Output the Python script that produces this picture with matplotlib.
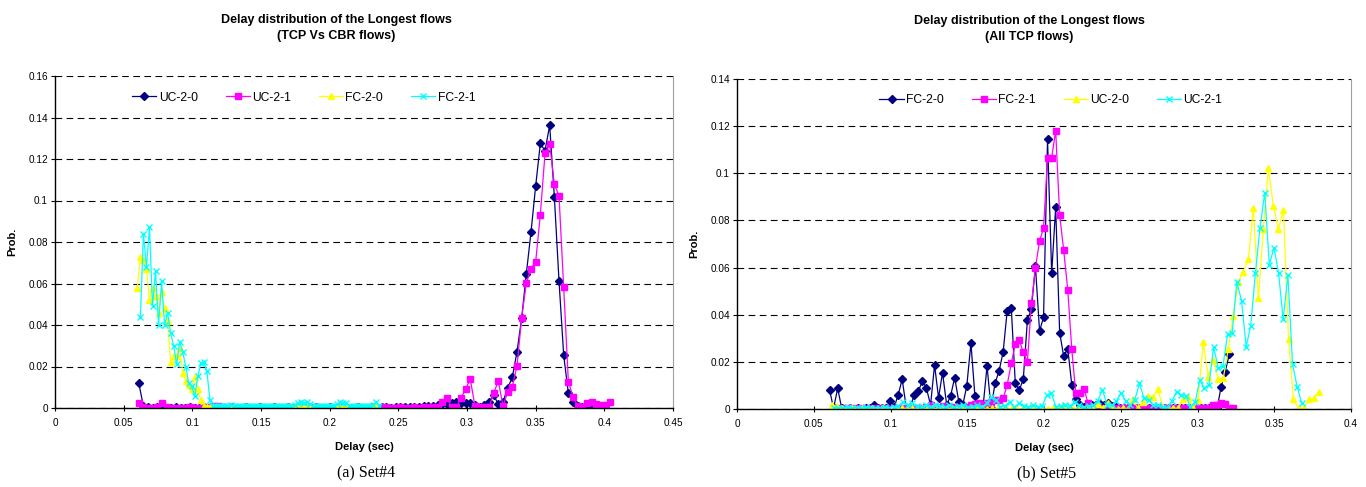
import matplotlib
matplotlib.use("Agg")
import matplotlib.pyplot as plt
from matplotlib.ticker import FuncFormatter

plt.rcParams['font.family'] = ['Liberation Sans', 'DejaVu Sans']

# ---- Set#4 (TCP Vs CBR flows) ----
set4_uc_delay = [
    0.0610, 0.0644, 0.0678, 0.0712, 0.0746, 0.0780, 0.0814, 0.0848, 0.0882, 0.0916,
    0.0950, 0.0984, 0.1018, 0.1052, 0.1086, 0.1120, 0.1154, 0.1188, 0.1222, 0.1256,
    0.1290, 0.1324, 0.1358, 0.1392, 0.1426, 0.1460, 0.1494, 0.1528, 0.1562, 0.1596,
    0.1630, 0.1664, 0.1698, 0.1732, 0.1766, 0.1800, 0.1834, 0.1868, 0.1902, 0.1936,
    0.1970, 0.2004, 0.2038, 0.2072, 0.2106, 0.2140, 0.2174, 0.2208, 0.2242, 0.2276,
    0.2310, 0.2344, 0.2378, 0.2412, 0.2446, 0.2480, 0.2514, 0.2548, 0.2582, 0.2616,
    0.2650, 0.2684, 0.2718, 0.2752, 0.2786, 0.2820, 0.2854, 0.2888, 0.2922, 0.2956,
    0.2990, 0.3024, 0.3058, 0.3092, 0.3126, 0.3160, 0.3194, 0.3228, 0.3262, 0.3296,
    0.3330, 0.3364, 0.3398, 0.3432, 0.3466, 0.3500, 0.3534, 0.3568, 0.3602, 0.3636,
    0.3670, 0.3704, 0.3738, 0.3772, 0.3806, 0.3840, 0.3874, 0.3908, 0.3942, 0.3976,
    0.4010, 0.4044]
set4_uc20 = [
    0.012, 0.0008, 0.0003, 0.0002, 0.0006, 0.0003, 0.0002, 0.0002, 0.0003, 0.0002,
    0.0002, 0.0003, 0.0002, 0.0002, 0.0003, 0.0002, 0.0002, 0.0004, 0.0002, 0.0002,
    0.0003, 0.0002, 0.0002, 0.0003, 0.0002, 0.0002, 0.0003, 0.0002, 0.0002, 0.0003,
    0.0002, 0.0002, 0.0003, 0.0002, 0.0002, 0.0003, 0.0002, 0.0002, 0.0003, 0.0002,
    0.0002, 0.0003, 0.0002, 0.0002, 0.0003, 0.0002, 0.0002, 0.0003, 0.0002, 0.0002,
    0.0003, 0.0002, 0.0004, 0.0003, 0.0002, 0.0004, 0.0003, 0.0005, 0.0004, 0.0006,
    0.0005, 0.0008, 0.001, 0.001, 0.0015, 0.002, 0.002, 0.0025, 0.003, 0.0026,
    0.0026, 0.0023, 0.0015, 0.0006, 0.0015, 0.0029, 0.0061, 0.0019, 0.003, 0.0096,
    0.0148, 0.0271, 0.0432, 0.0647, 0.0847, 0.107, 0.1275, 0.124, 0.1362, 0.1018,
    0.0612, 0.0255, 0.0071, 0.003, 0.001, 0.0006, 0.001, 0.0005, 0.0003, 0.0003]
set4_uc21 = [
    0.0025, 0.0003, 0.0002, 0.0002, 0.0003, 0.0024, 0.0003, 0.0002, 0.0002, 0.0002,
    0.0002, 0.0003, 0.0002, 0.0002, 0.0002, 0.0003, 0.0008, 0.0012, 0.0006, 0.0004,
    0.0003, 0.0002, 0.0002, 0.0003, 0.0002, 0.0002, 0.0003, 0.0002, 0.0002, 0.0003,
    0.0002, 0.0002, 0.0003, 0.0002, 0.0002, 0.0003, 0.0002, 0.0002, 0.0003, 0.0002,
    0.0002, 0.0003, 0.0002, 0.0002, 0.0003, 0.0002, 0.0002, 0.0003, 0.0002, 0.0002,
    0.0003, 0.0002, 0.0002, 0.0003, 0.0002, 0.0002, 0.0003, 0.0002, 0.0002, 0.0003,
    0.0002, 0.0003, 0.0003, 0.0003, 0.0003, 0.003, 0.005, 0.0005, 0.0005, 0.0047,
    0.0092, 0.0138, 0.001, 0.0003, 0.0003, 0.0003, 0.0071, 0.013, 0.001, 0.0075,
    0.0103, 0.0202, 0.0434, 0.0602, 0.0672, 0.0704, 0.0932, 0.1227, 0.1272, 0.1078,
    0.1022, 0.0582, 0.0127, 0.0055, 0.001, 0.0007, 0.0022, 0.003, 0.0019, 0.0015,
    0.0014, 0.003]

set4_fc_delay = [
    0.0600, 0.0622, 0.0644, 0.0666, 0.0688, 0.0710, 0.0732, 0.0754, 0.0776, 0.0798,
    0.0820, 0.0842, 0.0864, 0.0886, 0.0908, 0.0930, 0.0952, 0.0974, 0.0996, 0.1018,
    0.1040, 0.1062, 0.1084, 0.1106, 0.1128, 0.1150, 0.1172, 0.1194, 0.1216, 0.1238,
    0.1260, 0.1282, 0.1304, 0.1326, 0.1348, 0.1370, 0.1392, 0.1414, 0.1436, 0.1458,
    0.1480, 0.1502, 0.1524, 0.1546, 0.1568, 0.1590, 0.1612, 0.1634, 0.1656, 0.1678,
    0.1700, 0.1722, 0.1744, 0.1766, 0.1788, 0.1810, 0.1832, 0.1854, 0.1876, 0.1898,
    0.1920, 0.1942, 0.1964, 0.1986, 0.2008, 0.2030, 0.2052, 0.2074, 0.2096, 0.2118,
    0.2140, 0.2162, 0.2184, 0.2206, 0.2228, 0.2250, 0.2272, 0.2294, 0.2316, 0.2338,
    0.2360]
set4_fc20 = [
    0.058, 0.073, 0.0715, 0.067, 0.052, 0.058, 0.054, 0.046, 0.056, 0.048,
    0.042, 0.022, 0.025, 0.025, 0.029, 0.017, 0.013, 0.011, 0.009, 0.015,
    0.009, 0.004, 0.001, 0.0005, 0.0004, 0.0005, 0.0004, 0.0006, 0.0005, 0.0004,
    0.0005, 0.0006, 0.0004, 0.0005, 0.0004, 0.0005, 0.0006, 0.0004, 0.0005, 0.0004,
    0.0005, 0.0004, 0.0006, 0.0005, 0.0004, 0.0005, 0.0004, 0.0005, 0.0006, 0.0004,
    0.0005, 0.0007, 0.0005, 0.0004, 0.0006, 0.0008, 0.0006, 0.0005, 0.0004, 0.0005,
    0.0004, 0.0005, 0.0006, 0.0004, 0.0005, 0.0004, 0.0005, 0.0007, 0.0005, 0.0006,
    0.0004, 0.0005, 0.0004, 0.0005, 0.0006, 0.0004, 0.0005, 0.0006, 0.0008, 0.0010]
set4_fc21 = [
    0.044, 0.084, 0.068, 0.087, 0.049, 0.066, 0.040, 0.061, 0.040, 0.046,
    0.036, 0.030, 0.021, 0.032, 0.027, 0.020, 0.012, 0.0104, 0.0056, 0.0152,
    0.0216, 0.0224, 0.0176, 0.004, 0.0008, 0.0012, 0.001, 0.0009, 0.0012, 0.001,
    0.0015, 0.0012, 0.0009, 0.0011, 0.001, 0.0012, 0.0009, 0.001, 0.0012, 0.0011,
    0.0009, 0.001, 0.0012, 0.0011, 0.001, 0.0012, 0.0009, 0.0011, 0.001, 0.0012,
    0.0011, 0.0015, 0.0025, 0.003, 0.0022, 0.0028, 0.0018, 0.0012, 0.001, 0.0011,
    0.0012, 0.0009, 0.0011, 0.001, 0.0012, 0.0018, 0.0028, 0.0022, 0.0025, 0.0012,
    0.001, 0.0011, 0.0012, 0.0009, 0.001, 0.0011, 0.0012, 0.0015, 0.003, 0.0012]

# ---- Set#5 (All TCP flows) ----
set5_fc_delay = [
    0.0603, 0.0629, 0.0656, 0.0682, 0.0708, 0.0735, 0.0761, 0.0787, 0.0813, 0.0840,
    0.0866, 0.0892, 0.0919, 0.0945, 0.0971, 0.0998, 0.1024, 0.1050, 0.1076, 0.1103,
    0.1129, 0.1155, 0.1182, 0.1208, 0.1234, 0.1261, 0.1287, 0.1313, 0.1339, 0.1366,
    0.1392, 0.1418, 0.1445, 0.1471, 0.1497, 0.1524, 0.1550, 0.1576, 0.1602, 0.1629,
    0.1655, 0.1681, 0.1708, 0.1734, 0.1760, 0.1787, 0.1813, 0.1839, 0.1865, 0.1892,
    0.1918, 0.1944, 0.1971, 0.1997, 0.2023, 0.2050, 0.2076, 0.2102, 0.2128, 0.2155,
    0.2181, 0.2207, 0.2234, 0.2260, 0.2286, 0.2313, 0.2339, 0.2365, 0.2391, 0.2418,
    0.2444, 0.2470, 0.2497, 0.2523, 0.2549, 0.2576, 0.2602, 0.2628, 0.2654, 0.2681,
    0.2707, 0.2733, 0.2760, 0.2786, 0.2812, 0.2839, 0.2865, 0.2891, 0.2917, 0.2944,
    0.2970, 0.2996, 0.3023, 0.3049, 0.3075, 0.3102, 0.3128, 0.3154, 0.3180, 0.3207,
    0.3233]
set5_fc20 = [
    0.0081, 0.0003, 0.0088, 0.0003, 0.0002, 0.0003, 0.0002, 0.0003, 0.0002, 0.0003,
    0.0004, 0.0017, 0.0003, 0.0003, 0.0006, 0.0034, 0.0008, 0.006, 0.0126, 0.0005,
    0.001, 0.006, 0.0076, 0.012, 0.0088, 0.0017, 0.0187, 0.0048, 0.0154, 0.0017,
    0.0057, 0.0133, 0.0031, 0.0017, 0.0098, 0.0279, 0.0055, 0.0003, 0.0003, 0.0182,
    0.0003, 0.0109, 0.0163, 0.0243, 0.0416, 0.0427, 0.0109, 0.0081, 0.0126, 0.0378,
    0.0424, 0.0607, 0.0331, 0.0389, 0.1144, 0.0576, 0.0856, 0.0324, 0.0225, 0.0256,
    0.0102, 0.0042, 0.0017, 0.001, 0.0013, 0.0017, 0.0015, 0.0022, 0.0017, 0.0027,
    0.0013, 0.0008, 0.0005, 0.0003, 0.0003, 0.0004, 0.0003, 0.0003, 0.0004, 0.0003,
    0.0003, 0.0003, 0.0004, 0.0003, 0.0003, 0.0003, 0.0004, 0.0003, 0.0003, 0.0003,
    0.0003, 0.0004, 0.0003, 0.0003, 0.0003, 0.0003, 0.0004, 0.0095, 0.0157, 0.0232]
set5_fc21 = [
    0.0005, 0.0003, 0.0002, 0.0003, 0.0002, 0.0003, 0.0002, 0.0003, 0.0002, 0.0003,
    0.0002, 0.0003, 0.0002, 0.0003, 0.0002, 0.0003, 0.0002, 0.0003, 0.0002, 0.0003,
    0.0004, 0.0003, 0.0005, 0.0008, 0.0017, 0.0008, 0.0005, 0.0013, 0.0006, 0.001,
    0.0006, 0.0008, 0.0006, 0.001, 0.0015, 0.0021, 0.0024, 0.002, 0.0025, 0.003,
    0.0038, 0.004, 0.0045, 0.0102, 0.0194, 0.0276, 0.0293, 0.024, 0.0201, 0.0448,
    0.0597, 0.0714, 0.0767, 0.1066, 0.1066, 0.1181, 0.0823, 0.0675, 0.0504, 0.0253,
    0.0066, 0.0066, 0.0086, 0.0027, 0.0007, 0.0004, 0.0003, 0.0003, 0.0003, 0.0003,
    0.0004, 0.0003, 0.0003, 0.0003, 0.0003, 0.0004, 0.0003, 0.0003, 0.0003, 0.0003,
    0.0003, 0.0004, 0.0003, 0.0003, 0.0003, 0.0003, 0.0004, 0.0003, 0.0003, 0.0003,
    0.0003, 0.0003, 0.0003, 0.0004, 0.0015, 0.0017, 0.0024, 0.0021, 0.0006, 0.0005]

set5_uc20_delay = [
    0.0617, 0.0650, 0.0682, 0.0715, 0.0748, 0.0781, 0.0813, 0.0846, 0.0879, 0.0911,
    0.0944, 0.0977, 0.1009, 0.1042, 0.1075, 0.1108, 0.1140, 0.1173, 0.1206, 0.1238,
    0.1271, 0.1304, 0.1336, 0.1369, 0.1402, 0.1435, 0.1467, 0.1500, 0.1533, 0.1565,
    0.1598, 0.1631, 0.1663, 0.1696, 0.1729, 0.1762, 0.1794, 0.1827, 0.1860, 0.1892,
    0.1925, 0.1958, 0.1990, 0.2023, 0.2056, 0.2089, 0.2121, 0.2154, 0.2187, 0.2219,
    0.2252, 0.2285, 0.2317, 0.2350, 0.2383, 0.2416, 0.2448, 0.2481, 0.2514, 0.2546,
    0.2579, 0.2612, 0.2644, 0.2677, 0.2710, 0.2743, 0.2775, 0.2808, 0.2841, 0.2873,
    0.2906, 0.2939, 0.2971, 0.3004, 0.3037, 0.3070, 0.3102, 0.3135, 0.3168, 0.3200,
    0.3233, 0.3266, 0.3298, 0.3331, 0.3364, 0.3397, 0.3429, 0.3462, 0.3495, 0.3527,
    0.3560, 0.3593, 0.3625, 0.3658, 0.3691, 0.3724, 0.3756, 0.3789]
set5_uc20 = [
    0.0015, 0.0012, 0.0004, 0.0003, 0.0003, 0.0002, 0.0003, 0.0002, 0.0003, 0.0002,
    0.0003, 0.0002, 0.0003, 0.0002, 0.0003, 0.0002, 0.0003, 0.0002, 0.0003, 0.0002,
    0.0003, 0.0002, 0.0003, 0.0002, 0.0003, 0.0002, 0.0003, 0.0002, 0.0003, 0.0002,
    0.0003, 0.0002, 0.0003, 0.0002, 0.0003, 0.0002, 0.0003, 0.0002, 0.0003, 0.0002,
    0.0003, 0.0002, 0.0003, 0.0002, 0.0003, 0.0002, 0.0015, 0.0003, 0.0002, 0.0003,
    0.0002, 0.0003, 0.0002, 0.002, 0.0003, 0.0025, 0.0003, 0.0002, 0.0003, 0.0002,
    0.0041, 0.0003, 0.0031, 0.0055, 0.0052, 0.0083, 0.0003, 0.0003, 0.0003, 0.0003,
    0.0041, 0.0052, 0.0003, 0.0038, 0.0286, 0.0137, 0.0208, 0.0126, 0.013, 0.0253,
    0.0396, 0.054, 0.0583, 0.0635, 0.0851, 0.0469, 0.0764, 0.1021, 0.0861, 0.0763,
    0.0844, 0.0296, 0.0041, 0.0003, 0.0003, 0.0041, 0.0045, 0.0074]

set5_uc21_delay = [
    0.0629, 0.0659, 0.0689, 0.0720, 0.0750, 0.0780, 0.0810, 0.0840, 0.0871, 0.0901,
    0.0931, 0.0961, 0.0991, 0.1022, 0.1052, 0.1082, 0.1112, 0.1142, 0.1173, 0.1203,
    0.1233, 0.1263, 0.1293, 0.1324, 0.1354, 0.1384, 0.1414, 0.1444, 0.1475, 0.1505,
    0.1535, 0.1565, 0.1595, 0.1626, 0.1656, 0.1686, 0.1716, 0.1746, 0.1777, 0.1807,
    0.1837, 0.1867, 0.1897, 0.1928, 0.1958, 0.1988, 0.2018, 0.2048, 0.2079, 0.2109,
    0.2139, 0.2169, 0.2199, 0.2230, 0.2260, 0.2290, 0.2320, 0.2350, 0.2381, 0.2411,
    0.2441, 0.2471, 0.2501, 0.2532, 0.2562, 0.2592, 0.2622, 0.2652, 0.2683, 0.2713,
    0.2743, 0.2773, 0.2803, 0.2834, 0.2864, 0.2894, 0.2924, 0.2954, 0.2985, 0.3015,
    0.3045, 0.3075, 0.3105, 0.3136, 0.3166, 0.3196, 0.3226, 0.3256, 0.3287, 0.3317,
    0.3347, 0.3377, 0.3407, 0.3438, 0.3468, 0.3498, 0.3528, 0.3558, 0.3589, 0.3619,
    0.3649, 0.3679]
set5_uc21 = [
    0.0003, 0.0006, 0.0004, 0.0008, 0.0005, 0.0006, 0.0004, 0.0007, 0.0005, 0.0006,
    0.0005, 0.0008, 0.0006, 0.001, 0.0012, 0.0031, 0.0015, 0.0024, 0.0012, 0.0008,
    0.0015, 0.001, 0.0017, 0.0012, 0.0008, 0.0015, 0.001, 0.0012, 0.0017, 0.0008,
    0.001, 0.0015, 0.0008, 0.0024, 0.0052, 0.0038, 0.001, 0.0013, 0.0031, 0.0008,
    0.0024, 0.0012, 0.0008, 0.0015, 0.001, 0.0012, 0.0059, 0.0066, 0.0008, 0.0012,
    0.0015, 0.0012, 0.0031, 0.0015, 0.001, 0.0012, 0.0015, 0.0035, 0.0081, 0.0017,
    0.0015, 0.0035, 0.0066, 0.0035, 0.0015, 0.004, 0.0109, 0.0045, 0.0038, 0.0015,
    0.0015, 0.001, 0.0005, 0.0035, 0.0074, 0.0059, 0.0055, 0.001, 0.0031, 0.0123,
    0.0088, 0.0102, 0.0262, 0.0173, 0.0182, 0.0318, 0.0324, 0.0537, 0.046, 0.0264,
    0.0354, 0.0576, 0.0767, 0.0918, 0.0611, 0.0685, 0.0578, 0.038, 0.0568, 0.0191,
    0.0095, 0.0024]

NAVY = '#000080'
MAGENTA = '#FF00FF'
YELLOW = '#FFFF00'
CYAN = '#00FFFF'


def series(ax, x, y, color, marker, ms, label):
    ax.plot(x[:len(y)], y, color=color, lw=0.9, marker=marker, markersize=ms,
            mfc=color, mec=color, mew=1.0, label=label)


def style_axes(ax, xmax, ymax, xstep, ystep, legend_x):
    ax.set_xlim(0, xmax)
    ax.set_ylim(0, ymax)
    ax.set_xticks([i * xstep for i in range(int(round(xmax / xstep)) + 1)])
    ax.set_yticks([i * ystep for i in range(int(round(ymax / ystep)) + 1)])
    fmt = FuncFormatter(lambda v, p: '%g' % round(v, 3))
    ax.xaxis.set_major_formatter(fmt)
    ax.yaxis.set_major_formatter(fmt)
    ax.tick_params(axis='both', labelsize=7.2, length=3, width=0.8, pad=2)
    ax.tick_params(axis='x', direction='inout', length=5, pad=5)
    ax.yaxis.grid(True, color='black', linestyle=(0, (6, 4)), linewidth=0.8)
    ax.set_axisbelow(True)
    ax.spines['top'].set_visible(False)
    ax.spines['right'].set_color('#A0A0A0')
    ax.spines['left'].set_linewidth(1.0)
    ax.spines['bottom'].set_linewidth(1.0)
    ax.set_ylabel('Prob.', fontsize=8, fontweight='bold', labelpad=8)
    ax.set_xlabel('Delay (sec)', fontsize=8, fontweight='bold', labelpad=10)
    ax.legend(loc='center left', bbox_to_anchor=(legend_x, 0.935), ncol=4,
              frameon=False, fontsize=8.7, handlelength=2.0, handletextpad=0.2,
              columnspacing=2.3, borderpad=0, borderaxespad=0)


fig = plt.figure(figsize=(13.66, 4.87), dpi=100)

ax1 = fig.add_axes([55 / 1366, 1 - 408 / 487, 618 / 1366, 332 / 487])
series(ax1, set4_uc_delay, set4_uc20, NAVY, 'D', 3.6, 'UC-2-0')
series(ax1, set4_uc_delay, set4_uc21, MAGENTA, 's', 4.2, 'UC-2-1')
series(ax1, set4_fc_delay, set4_fc20, YELLOW, '^', 4.8, 'FC-2-0')
series(ax1, set4_fc_delay[1:], set4_fc21, CYAN, 'x', 4.0, 'FC-2-1')
style_axes(ax1, 0.45, 0.16, 0.05, 0.02, 0.125)

ax2 = fig.add_axes([737 / 1366, 1 - 409 / 487, 614 / 1366, 330 / 487])
series(ax2, set5_fc_delay, set5_fc20, NAVY, 'D', 3.6, 'FC-2-0')
series(ax2, set5_fc_delay[1:], set5_fc21, MAGENTA, 's', 4.2, 'FC-2-1')
series(ax2, set5_uc20_delay, set5_uc20, YELLOW, '^', 4.8, 'UC-2-0')
series(ax2, set5_uc21_delay, set5_uc21, CYAN, 'x', 4.0, 'UC-2-1')
style_axes(ax2, 0.4, 0.14, 0.05, 0.02, 0.232)

fig.text(336 / 1366, 1 - 28 / 487, 'Delay distribution of the Longest flows\n(TCP Vs CBR flows)',
         ha='center', va='center', fontsize=9, fontweight='bold', linespacing=1.5)
fig.text(1029 / 1366, 1 - 29 / 487, 'Delay distribution of the Longest flows\n(All TCP flows)',
         ha='center', va='center', fontsize=9, fontweight='bold', linespacing=1.5)

fig.text(366 / 1366, 1 - 473 / 487, '(a) Set#4', ha='center', va='center',
         fontsize=11.5, family=['Liberation Serif', 'DejaVu Serif'])
fig.text(1047 / 1366, 1 - 473 / 487, '(b) Set#5', ha='center', va='center',
         fontsize=11.5, family=['Liberation Serif', 'DejaVu Serif'])

fig.savefig('out.png', dpi=100)
